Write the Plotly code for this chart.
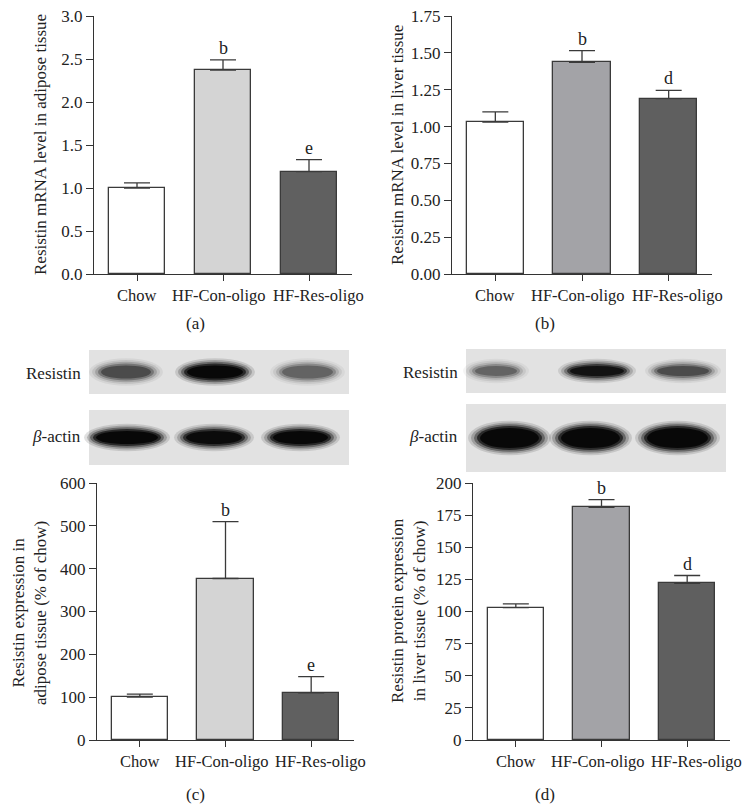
import plotly.graph_objects as go

# the page body keeps its default 8px margin, so the figure is drawn 16px smaller
PAGE_W, PAGE_H = 751, 812
PAD = 8
W, H = PAGE_W - 2 * PAD, PAGE_H - 2 * PAD
FONT = "Liberation Serif"

groups = ["Chow", "HF-Con-oligo", "HF-Res-oligo"]

adipose_mrna = [1.00, 2.37, 1.19]
adipose_mrna_sem = [0.06, 0.12, 0.14]
adipose_mrna_marks = ["", "b", "e"]

liver_mrna = [1.03, 1.435, 1.19]
liver_mrna_sem = [0.07, 0.08, 0.055]
liver_mrna_marks = ["", "b", "d"]

adipose_protein = [100, 377, 110]
adipose_protein_sem = [7, 133, 38]
adipose_protein_marks = ["", "b", "e"]

liver_protein = [103, 181, 122]
liver_protein_sem = [3, 6, 6]
liver_protein_marks = ["", "b", "d"]

# band darkness per lane (0 = absent, 1 = saturated)
blot_c_resistin = [0.45, 1.0, 0.35]
blot_c_actin = [1.0, 0.95, 1.0]
blot_d_resistin = [0.35, 0.85, 0.45]
blot_d_actin = [1.0, 1.0, 1.0]

light_colors = ["#ffffff", "#d4d4d4", "#606060"]
mid_colors = ["#ffffff", "#a3a3a7", "#5f5f5f"]

# labels sit a little off-centre so the long names do not collide
label_shift = [0, -4, 9]

fig = go.Figure()


def px_x(v):
    return (v - PAD) / W


def px_y(v):
    return 1 - (v - PAD) / H


def add_panel(idx, values, sem, marks, colors, box, yrange, dtick, fmt):
    # box = (left, top, right, bottom) in page pixels of the plot area
    left, top, right, bottom = box
    xa = "x" if idx == 1 else f"x{idx}"
    ya = "y" if idx == 1 else f"y{idx}"
    fig.add_trace(
        go.Bar(
            x=groups,
            y=values,
            width=0.66,
            marker={"color": colors, "line": {"color": "#3a3a3a", "width": 1.3}},
            error_y={
                "type": "data",
                "symmetric": False,
                "array": sem,
                "arrayminus": [0, 0, 0],
                "color": "#3a3a3a",
                "thickness": 1.3,
                "width": 13,
            },
            xaxis=xa,
            yaxis=ya,
            showlegend=False,
        )
    )
    for g, v, s, m in zip(groups, values, sem, marks):
        if m:
            fig.add_annotation(
                x=g, y=v + s, xref=xa, yref=ya, text=m, showarrow=False,
                yanchor="bottom", yshift=0, font={"family": FONT, "size": 18, "color": "#222"},
            )
    for g, dx in zip(groups, label_shift):
        fig.add_annotation(
            x=g, y=0, xref=xa, yref=ya, text=g, showarrow=False, xshift=dx,
            yanchor="top", yshift=-10, font={"family": FONT, "size": 16.5, "color": "#222"},
        )
    key = "" if idx == 1 else str(idx)
    fig.update_layout(
        **{
            f"xaxis{key}": dict(
                domain=[px_x(left), px_x(right)], range=[-0.5, 2.5], anchor=ya,
                showline=True, linecolor="#333", linewidth=1.3, ticks="outside",
                ticklen=6, tickwidth=1.3, tickcolor="#333", showgrid=False,
                showticklabels=False, automargin=False,
            ),
            f"yaxis{key}": dict(
                domain=[px_y(bottom), px_y(top)], range=yrange, dtick=dtick, tickformat=fmt,
                anchor=xa, showline=True, linecolor="#333", linewidth=1.3, ticks="outside",
                ticklen=7, tickwidth=1.3, tickcolor="#333", showgrid=False, zeroline=False,
                automargin=False, ticklabeloverflow="allow",
                tickfont={"family": FONT, "size": 17, "color": "#222"},
            ),
        }
    )


add_panel(1, adipose_mrna, adipose_mrna_sem, adipose_mrna_marks, light_colors,
          (94, 16, 352, 274), [0, 3], 0.5, ".1f")
add_panel(2, liver_mrna, liver_mrna_sem, liver_mrna_marks, mid_colors,
          (452, 16, 712, 274), [0, 1.75], 0.25, ".2f")
add_panel(3, adipose_protein, adipose_protein_sem, adipose_protein_marks, light_colors,
          (97, 483, 354, 740), [0, 600], 100, "d")
add_panel(4, liver_protein, liver_protein_sem, liver_protein_marks, mid_colors,
          (473, 483, 730, 740), [0, 200], 25, "d")

text_font = {"family": FONT, "size": 17, "color": "#222"}

y_titles = [
    ("Resistin mRNA level in adipose tissue", 40, 145),
    ("Resistin mRNA level in liver tissue", 397, 145),
    ("Resistin expression in<br>adipose tissue (% of chow)", 29, 613),
    ("Resistin protein expression<br>in liver tissue (% of chow)", 408, 611),
]
for text, cx, cy in y_titles:
    fig.add_annotation(
        x=px_x(cx), y=px_y(cy), xref="paper", yref="paper", text=text, textangle=-90,
        showarrow=False, xanchor="center", yanchor="middle", font=text_font,
    )

panel_labels = [("(a)", 195, 323), ("(b)", 545, 323), ("(c)", 195, 794), ("(d)", 545, 794)]
for text, cx, cy in panel_labels:
    fig.add_annotation(
        x=px_x(cx), y=px_y(cy), xref="paper", yref="paper", text=text, showarrow=False,
        xanchor="center", yanchor="middle", font=text_font,
    )

# western blot strips drawn as shapes in page pixel coordinates
shapes = []


def blot_strip(x0, y0, x1, y1, lanes, darkness, band_h, bg="#e2e2e2"):
    shapes.append(dict(type="rect", xref="paper", yref="paper", x0=px_x(x0), x1=px_x(x1),
                       y0=px_y(y1), y1=px_y(y0), fillcolor=bg, line={"width": 0}, layer="below"))
    cy = (y0 + y1) / 2
    for (lx0, lx1), d in zip(lanes, darkness):
        for grow, op in [(8, 0.12), (5, 0.2), (2, 0.35), (-1, 0.6), (-4, 0.8)]:
            shapes.append(dict(
                type="circle", xref="paper", yref="paper",
                x0=px_x(lx0 - grow), x1=px_x(lx1 + grow),
                y0=px_y(cy + band_h / 2 + grow * 0.6), y1=px_y(cy - band_h / 2 - grow * 0.6),
                fillcolor="black", opacity=op * d, line={"width": 0}, layer="below",
            ))


blot_strip(89, 350, 349, 394, [(97, 155), (183, 247), (278, 337)], blot_c_resistin, 18)
blot_strip(89, 410, 349, 465, [(92, 162), (182, 246), (269, 332)], blot_c_actin, 18)
blot_strip(466, 349, 726, 393, [(471, 521), (566, 628), (653, 713)], blot_d_resistin, 15)
blot_strip(466, 404, 726, 472, [(476, 543), (557, 624), (643, 712)], blot_d_actin, 25)

blot_labels = [
    ("Resistin", 83, 373), ("<i>β</i>-actin", 83, 436),
    ("Resistin", 460, 372), ("<i>β</i>-actin", 460, 436),
]
for text, rx, cy in blot_labels:
    fig.add_annotation(
        x=px_x(rx), y=px_y(cy), xref="paper", yref="paper", text=text, showarrow=False,
        xanchor="right", yanchor="middle", font=text_font,
    )

fig.update_layout(
    width=W,
    height=H,
    margin={"l": 0, "r": 0, "t": 0, "b": 0},
    paper_bgcolor="white",
    plot_bgcolor="rgba(0,0,0,0)",
    shapes=shapes,
    bargap=0,
)

fig.write_html("out.html")
